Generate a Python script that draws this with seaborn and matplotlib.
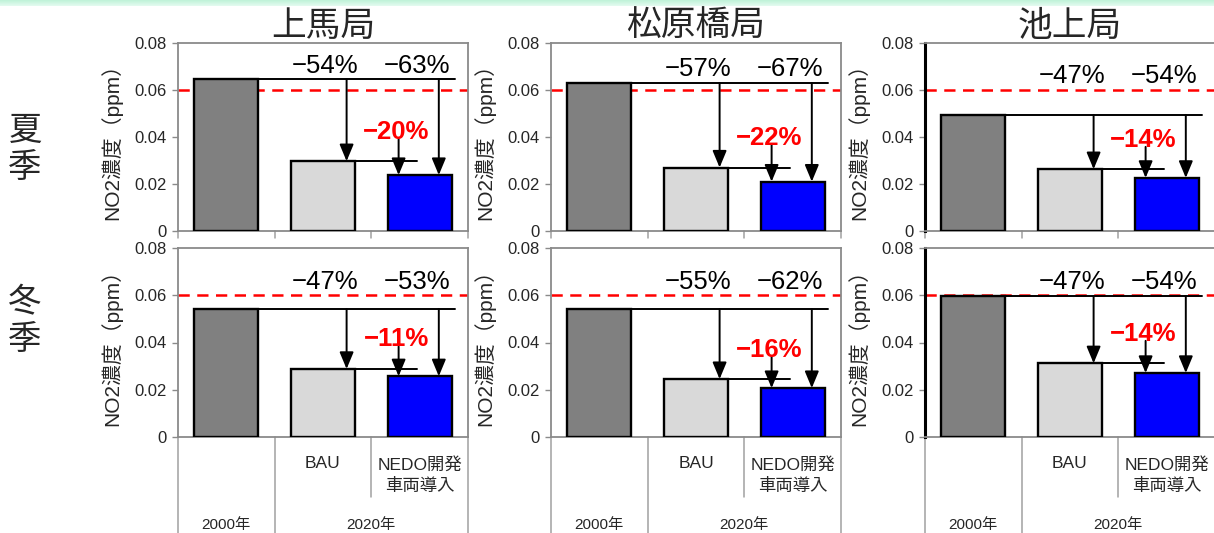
import numpy as np
import pandas as pd
import matplotlib
matplotlib.use("Agg")
import matplotlib.pyplot as plt
from matplotlib import font_manager
import seaborn as sns

# --- data -------------------------------------------------------------
stations = ["上馬局", "松原橋局", "池上局"]
seasons = ["夏\n季", "冬\n季"]
scenarios = ["2000年", "BAU", "NEDO開発\n車両導入"]

# NO2 concentration (ppm): [2000, BAU 2020, NEDO 2020] per station
summer_no2 = [[0.0645, 0.0297, 0.0238],
              [0.0630, 0.0270, 0.0210],
              [0.0494, 0.0263, 0.0226]]
winter_no2 = [[0.0542, 0.0288, 0.0257],
              [0.0541, 0.0245, 0.0207],
              [0.0596, 0.0312, 0.0271]]

# reduction labels: vs 2000 (BAU, NEDO) and NEDO vs BAU
summer_cut_bau = ["−54%", "−57%", "−47%"]
summer_cut_nedo = ["−63%", "−67%", "−54%"]
summer_cut_red = ["−20%", "−22%", "−14%"]
winter_cut_bau = ["−47%", "−55%", "−47%"]
winter_cut_nedo = ["−53%", "−62%", "−54%"]
winter_cut_red = ["−11%", "−16%", "−14%"]

standard_ppm = 0.06
y_ticks = [0, 0.02, 0.04, 0.06, 0.08]
y_tick_labels = ["0", "0.02", "0.04", "0.06", "0.08"]
ylabel = "NO2濃度（ppm）"
year_labels = ["2000年", "2020年"]
case_labels = ["BAU", "NEDO開発\n車両導入"]

# --- style ------------------------------------------------------------
sns.set_theme(style="white")
plt.rcParams["font.family"] = ["Liberation Sans", "Noto Sans CJK JP"]
installed = {f.name for f in font_manager.fontManager.ttflist}
narrow = "Liberation Sans Narrow" if "Liberation Sans Narrow" in installed else "Liberation Sans"

bar_colors = ["#808080", "#d9d9d9", "#0000ff"]
frame_gray = "#8a8a8a"

W, H = 1214, 533
fig = plt.figure(figsize=(W / 100, H / 100), dpi=100)

# thin mint band along the top edge
band = fig.add_axes([0, 1 - 6 / H, 1, 6 / H])
grad = np.linspace(0, 1, 20).reshape(-1, 1)
band.imshow(grad, aspect="auto", cmap=matplotlib.colors.LinearSegmentedColormap.from_list(
    "mint", ["#bff2d8", "#e4fbf0"]), extent=[0, 1, 0, 1])
band.set_axis_off()

col_left = [178, 551, 925]
panel_w = 290
row_top = [43, 248]
row_h = [188, 189]

bw = 0.66


def draw_panel(ax, values, cut_bau, cut_nedo, cut_red, show_table, strong_left):
    df = pd.DataFrame({"scenario": scenarios, "no2": values})
    sns.barplot(data=df, x="scenario", y="no2", hue="scenario", palette=bar_colors,
                width=bw, edgecolor="black", linewidth=1.7, saturation=1,
                legend=False, ax=ax, zorder=3)
    ax.set_xlim(-0.5, 2.5)
    ax.set_ylim(0, 0.08)
    ax.set_yticks(y_ticks)
    ax.set_yticklabels(y_tick_labels, fontsize=12)
    ax.set_xticks([])
    ax.set_xlabel("")
    ax.set_ylabel(ylabel, fontsize=15, labelpad=9)
    ax.tick_params(axis="y", direction="out", length=4, width=1, color=frame_gray,
                   left=True, pad=4)
    for s in ax.spines.values():
        s.set_color(frame_gray)
        s.set_linewidth(1.3)
    if strong_left:
        ax.spines["left"].set_color("black")
        ax.spines["left"].set_linewidth(2.2)

    ax.axhline(standard_ppm, color="red", lw=1.8, ls=(0, (4.5, 3)), zorder=2)

    base, bau, nedo = values
    x_bau_arrow = 1 - bw / 2 + 0.87 * bw
    x_nedo_arrow = 2 - bw / 2 + 0.80 * bw
    x_red_arrow = 2 - bw / 2 + 0.17 * bw
    lw = 1.4
    # level of 2000 carried across
    ax.plot([bw / 2, 2.37], [base, base], color="black", lw=lw, zorder=4)
    # level of BAU carried over to NEDO
    ax.plot([1 + bw / 2, 1.97], [bau, bau], color="black", lw=lw, zorder=4)
    arrow = dict(arrowstyle="-|>,head_length=0.6,head_width=0.25", color="black",
                 lw=lw, shrinkA=0, shrinkB=0, mutation_scale=17)
    ax.annotate("", xy=(x_bau_arrow, bau), xytext=(x_bau_arrow, base),
                arrowprops=arrow, zorder=5)
    ax.annotate("", xy=(x_nedo_arrow, nedo), xytext=(x_nedo_arrow, base),
                arrowprops=arrow, zorder=5)
    red_y = bau + 0.0125
    ax.annotate("", xy=(x_red_arrow, nedo), xytext=(x_red_arrow, red_y - 0.003),
                arrowprops=arrow, zorder=5)

    lab_y = max(base, standard_ppm) + 0.0058
    ax.text(1.02, lab_y, cut_bau, ha="center", va="center", fontsize=18.5,
            family=narrow, color="black", zorder=6)
    ax.text(1.97, lab_y, cut_nedo, ha="center", va="center", fontsize=18.5,
            family=narrow, color="black", zorder=6)
    ax.text(1.76, red_y, cut_red, ha="center", va="center", fontsize=18.5,
            family=narrow, fontweight="bold", color="red", zorder=6)

    # boundary marks under the axis
    bounds = [-0.5, 0.5, 1.5, 2.5]
    trans = ax.get_xaxis_transform()
    if show_table:
        depth = [-0.6, -0.6, -0.32, -0.6]
        for bx, d in zip(bounds, depth):
            ax.plot([bx, bx], [0, d], color="#a0a0a0", lw=1.1, transform=trans,
                    clip_on=False)
        ax.text(1, -0.138, case_labels[0], transform=trans, ha="center", va="center",
                fontsize=12.5)
        ax.text(2, -0.204, case_labels[1], transform=trans, ha="center", va="center",
                fontsize=12.5, linespacing=1.4)
        ax.text(0, -0.466, year_labels[0], transform=trans, ha="center", va="center",
                fontsize=11)
        ax.text(1.5, -0.466, year_labels[1], transform=trans, ha="center", va="center",
                fontsize=11)
    else:
        for bx in bounds:
            ax.plot([bx, bx], [0, -0.035], color="#a0a0a0", lw=1.1, transform=trans,
                    clip_on=False)


for r, (season_vals, cb, cn, cr) in enumerate([
        (summer_no2, summer_cut_bau, summer_cut_nedo, summer_cut_red),
        (winter_no2, winter_cut_bau, winter_cut_nedo, winter_cut_red)]):
    for c in range(3):
        rect = [col_left[c] / W, 1 - (row_top[r] + row_h[r]) / H, panel_w / W, row_h[r] / H]
        ax = fig.add_axes(rect)
        draw_panel(ax, season_vals[c], cb[c], cn[c], cr[c], show_table=(r == 1),
                   strong_left=(c == 2))
        if r == 0:
            ax.set_title(stations[c], fontsize=25, pad=1)

# season labels at the far left
fig.text(25 / W, 1 - 150 / H, seasons[0], ha="center", va="center", fontsize=24,
         linespacing=1.25)
fig.text(25 / W, 1 - 322 / H, seasons[1], ha="center", va="center", fontsize=24,
         linespacing=1.25)

fig.savefig("out.png", dpi=100)
